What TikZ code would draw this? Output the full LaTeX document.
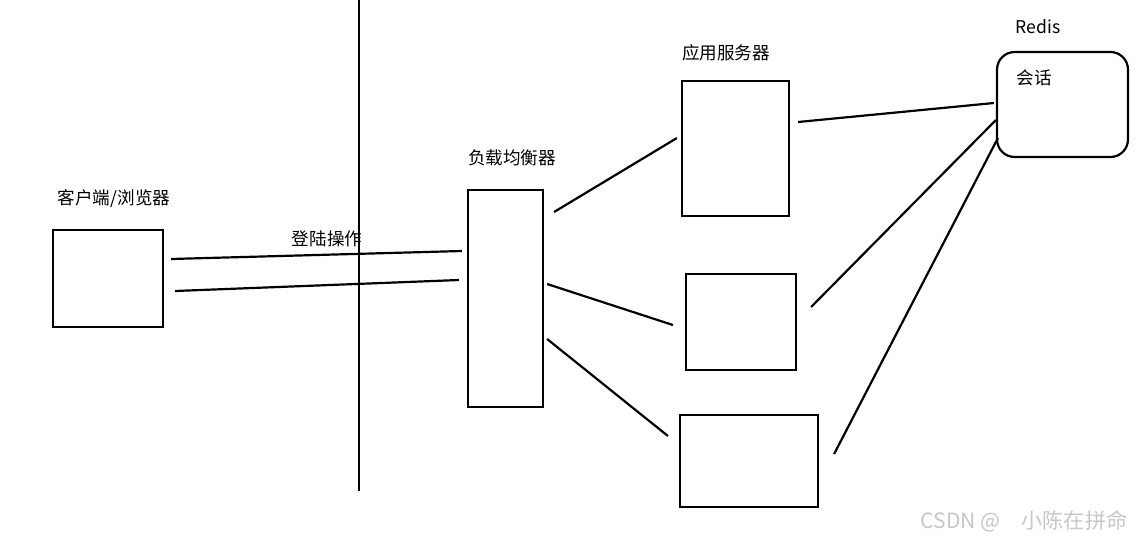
\documentclass[tikz,border=0pt]{standalone}
\usepackage{fontspec}
\setmainfont{Noto Sans CJK SC}
\usepackage{tikz}
\usetikzlibrary{positioning, calc}

\begin{document}
\begin{tikzpicture}[x=0.02cm, y=-0.02cm, line width=1.25pt,
    box/.style={draw=black, line width=1.25pt, minimum width=#1, inner sep=0pt},
    lbl/.style={font=\fontsize{10}{12}\selectfont, inner sep=0pt}]
        \useasboundingbox (0,0) rectangle (1148,541);

        % Boxes
        \node (client) [box=2.2cm, minimum height=1.94cm] at (108,278.5) {};
        \node (lb) [box=1.5cm, minimum height=4.34cm] at (505.5,298.5) {};
        \node (appone) [box=2.14cm, minimum height=2.7cm] at (735.5,148.5) {};
        \node (apptwo) [box=2.2cm, minimum height=1.92cm] at (741,322) {};
        \node (appthree) [box=2.76cm, minimum height=1.84cm] at (749,461) {};
        \node (redis) [box=2.62cm, minimum height=2.1cm, rounded corners=10pt] at (1062.5,104.5) {};

        % Labels
        \node (clientlabel) [lbl] at (114,199) {客户端/浏览器};
        \node (loginlabel) [lbl] at (327,239) {登陆操作};
        \node (lblabel) [lbl] at (512,158) {负载均衡器};
        \node (applabel) [lbl] at (726,53) {应用服务器};
        \node (redislabel) [lbl] at (1038,27) {Redis};
        \node (sessionlabel) [lbl] at (1034,78) {会话};

        % Divider
        \coordinate (divtop) at (359,0);
        \coordinate (divbot) at (359,491);
        \draw (divtop) -- (divbot);

        % Client to load balancer
        \draw ($(client.east)+(7,-19.5)$) -- ($(lb.west)+(-5,-47.5)$);
        \draw ($(client.east)+(11,12.5)$) -- ($(lb.west)+(-8,-18.5)$);

        % Load balancer to servers
        \draw ($(lb.east)+(10,-86.5)$) -- ($(appone.west)+(-4,-10.5)$);
        \draw ($(lb.east)+(3,-14.5)$) -- ($(apptwo.west)+(-12,3)$);
        \draw ($(lb.east)+(3,40.5)$) -- ($(appthree.west)+(-11,-25)$);

        % Servers to Redis
        \draw ($(appone.east)+(8,-26.5)$) -- ($(redis.west)+(-2,-1.5)$);
        \draw ($(apptwo.east)+(14,-15)$) -- ($(redis.west)+(0,15.5)$);
        \draw ($(appthree.east)+(15,-7)$) -- ($(redis.west)+(2,33.5)$);

        % Watermark
        \node (watermark) [lbl, text=black!22, font=\fontsize{12}{14}\selectfont] at (1024,521) {CSDN @\quad 小陈在拼命};
\end{tikzpicture}
\end{document}
